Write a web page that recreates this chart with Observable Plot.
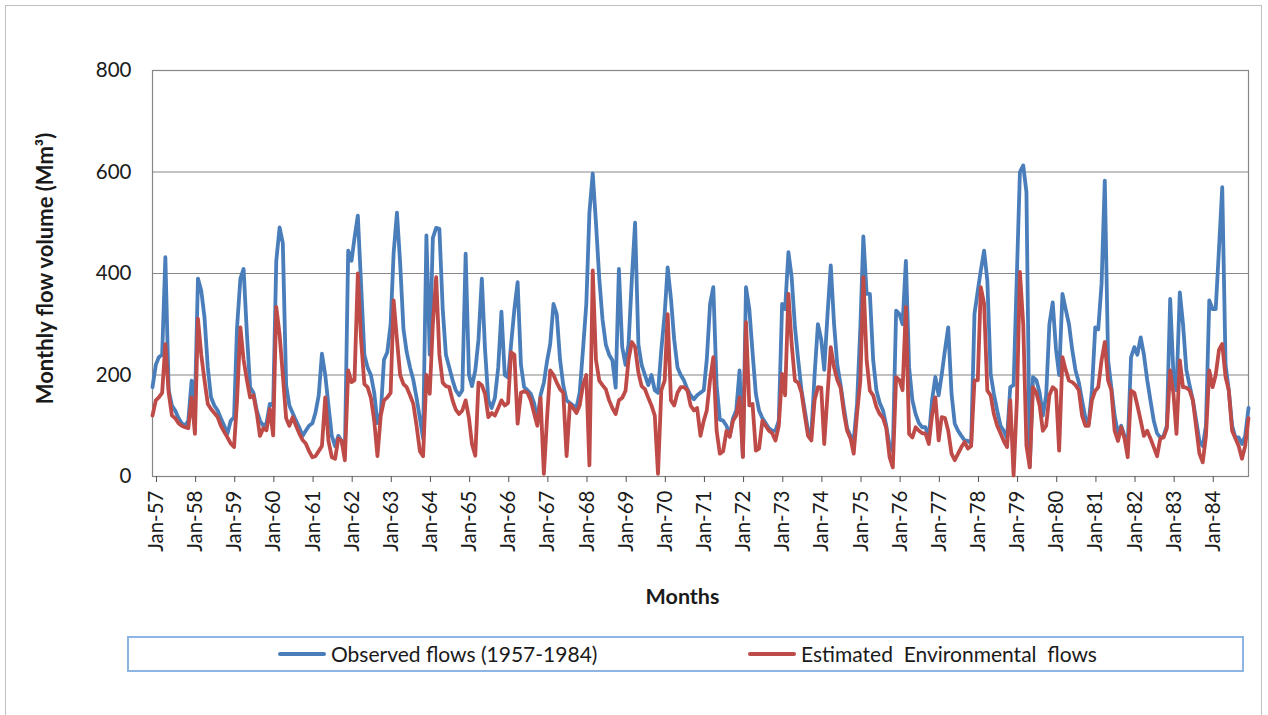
<!DOCTYPE html>
<html>
<head>
<meta charset="utf-8">
<script src="https://cdn.jsdelivr.net/npm/d3@7"></script>
<script src="https://cdn.jsdelivr.net/npm/@observablehq/plot@0.6"></script>
<style>
  html, body { margin: 0; padding: 0; background: #ffffff; }
  body { width: 1268px; height: 715px; position: relative; overflow: hidden; font-family: Lato, "Open Sans", sans-serif; }
  #frame { position: absolute; left: 5px; top: 5px; width: 1257px; height: 730px; border: 1px solid #bfbfbf; box-sizing: border-box; }
  #chart { position: absolute; left: 0; top: 0; }
  #legend { position: absolute; left: 127px; top: 636px; width: 1117px; height: 36px; border: 2px solid #8eb4e3; box-sizing: border-box; font-size: 21px; color: #1a1a1a; }
  .item { position: absolute; top: 3px; display: flex; align-items: center; white-space: pre; }
  .sw { display: inline-block; width: 48px; height: 4px; margin-right: 5px; border-radius: 2px; }
</style>
</head>
<body>
<div id="frame"></div>
<div id="chart"></div>
<div id="legend">
  <div class="item" style="left:149px"><span class="sw" style="background:#4a7ebb"></span><span>Observed flows (1957-1984)</span></div>
  <div class="item" style="left:619px"><span class="sw" style="background:#be4b48"></span><span>Estimated  Environmental  flows</span></div>
</div>
<script>
// Monthly flow volumes (Mm³), Jan-1957 onwards, one row per year
const observed = [
  176, 220, 235, 240, 432, 170, 140, 130, 115, 105, 100, 110,   // 1957
  189, 140, 390, 366, 314, 215, 156, 140, 130, 115, 100, 84,    // 1958
  110, 117, 294, 390, 409, 281, 176, 165, 130, 110, 100, 105,   // 1959
  143, 140, 425, 491, 460, 180, 140, 125, 110, 97, 80, 90,      // 1960
  100, 105, 125, 160, 242, 200, 140, 80, 60, 80, 70, 45,        // 1961
  445, 425, 470, 514, 380, 240, 215, 200, 165, 105, 125, 230,   // 1962
  245, 300, 440, 520, 420, 290, 245, 215, 190, 155, 115, 75,    // 1963
  475, 240, 470, 490, 488, 330, 240, 215, 190, 170, 160, 170,   // 1964
  439, 200, 178, 209, 270, 390, 250, 150, 135, 155, 215, 325,   // 1965
  200, 195, 260, 330, 383, 220, 176, 170, 163, 145, 110, 160,   // 1966
  185, 229, 261, 340, 320, 230, 180, 150, 145, 140, 135, 165,   // 1967
  250, 340, 520, 597, 500, 390, 310, 260, 240, 229, 175, 409,   // 1968
  255, 220, 260, 390, 500, 260, 220, 200, 180, 200, 170, 165,   // 1969
  250, 320, 412, 350, 270, 215, 200, 189, 172, 160, 152, 160,   // 1970
  165, 170, 230, 340, 373, 180, 112, 110, 100, 80, 115, 130,    // 1971
  209, 40, 373, 330, 245, 163, 130, 115, 105, 95, 90, 90,       // 1972
  110, 340, 330, 442, 393, 294, 230, 170, 130, 90, 84, 200,     // 1973
  300, 270, 210, 320, 416, 300, 220, 180, 135, 95, 80, 71,      // 1974
  143, 294, 473, 360, 360, 229, 170, 145, 130, 100, 60, 50,     // 1975
  327, 320, 300, 425, 215, 150, 123, 105, 97, 97, 75, 150,      // 1976
  196, 160, 200, 250, 294, 163, 104, 90, 80, 71, 70, 65,        // 1977
  320, 366, 406, 445, 386, 202, 163, 130, 100, 90, 75, 176,     // 1978
  180, 400, 600, 613, 560, 20, 196, 190, 165, 120, 160, 300,    // 1979
  343, 250, 200, 360, 330, 300, 250, 209, 185, 150, 115, 104,   // 1980
  170, 294, 290, 380, 583, 229, 176, 120, 84, 100, 80, 60,      // 1981
  235, 255, 240, 274, 240, 190, 150, 110, 85, 77, 80, 100,      // 1982
  350, 200, 170, 363, 300, 210, 180, 150, 110, 70, 60, 100,     // 1983
  347, 330, 330, 450, 570, 220, 170, 100, 77, 77, 64, 80,       // 1984
  135                                                           // Jan-1985
];
const environmental = [
  120, 150, 156, 165, 261, 165, 120, 115, 105, 100, 97, 95,     // 1957
  156, 84, 311, 240, 190, 143, 133, 125, 117, 100, 88, 77,      // 1958
  65, 58, 150, 294, 230, 190, 156, 160, 125, 80, 95, 91,        // 1959
  133, 81, 334, 280, 200, 115, 100, 117, 100, 85, 72, 65,       // 1960
  50, 38, 40, 50, 60, 156, 70, 38, 35, 75, 70, 32,              // 1961
  209, 186, 190, 400, 270, 182, 176, 155, 110, 40, 120, 150,    // 1962
  156, 165, 347, 270, 200, 182, 176, 160, 143, 100, 50, 40,     // 1963
  200, 163, 300, 393, 240, 185, 178, 176, 150, 132, 123, 130,   // 1964
  150, 115, 64, 41, 185, 180, 163, 117, 125, 120, 135, 150,     // 1965
  140, 145, 245, 240, 104, 165, 168, 165, 150, 125, 100, 155,   // 1966
  5, 120, 209, 200, 185, 172, 165, 40, 143, 135, 125, 140,      // 1967
  180, 200, 22, 406, 230, 189, 180, 172, 150, 135, 123, 150,    // 1968
  155, 169, 230, 265, 255, 205, 178, 172, 155, 140, 120, 5,     // 1969
  170, 189, 320, 150, 140, 165, 176, 176, 170, 140, 130, 135,   // 1970
  80, 110, 130, 190, 235, 90, 45, 50, 90, 78, 110, 120,         // 1971
  156, 38, 304, 140, 143, 51, 55, 110, 100, 90, 85, 71,         // 1972
  100, 202, 160, 360, 261, 189, 185, 165, 120, 80, 71, 150,     // 1973
  176, 175, 64, 163, 255, 215, 190, 175, 125, 90, 75, 45,       // 1974
  123, 189, 393, 229, 169, 160, 137, 123, 115, 95, 38, 18,      // 1975
  196, 190, 170, 334, 84, 77, 97, 90, 85, 85, 64, 120,          // 1976
  156, 71, 117, 115, 90, 45, 32, 45, 58, 68, 55, 60,            // 1977
  189, 190, 373, 340, 169, 160, 123, 100, 85, 70, 58, 150,      // 1978
  2, 150, 403, 300, 60, 18, 176, 165, 140, 90, 100, 160,        // 1979
  176, 170, 51, 235, 210, 189, 186, 180, 170, 120, 100, 100,    // 1980
  150, 169, 176, 229, 265, 189, 170, 90, 70, 97, 75, 38,        // 1981
  169, 165, 140, 110, 80, 90, 75, 58, 40, 75, 77, 95,           // 1982
  209, 163, 84, 229, 176, 175, 170, 150, 97, 45, 28, 80,        // 1983
  209, 176, 200, 250, 261, 196, 170, 90, 75, 60, 35, 60,        // 1984
  115                                                           // Jan-1985
];
const yTicks = [0, 200, 400, 600, 800];
const yTitle = "Monthly flow volume (Mm³)";
const xTitle = "Months";

const start = new Date(Date.UTC(1957, 0, 1));
const end = new Date(Date.UTC(1985, 0, 1));
const months = d3.utcMonth.range(start, new Date(Date.UTC(1985, 1, 1)));
const yearTicks = d3.utcYear.range(start, end);
const data = months.map((d, i) => ({date: d, obs: observed[i], env: environmental[i]}));

const chart = Plot.plot({
  width: 1268,
  height: 620,
  marginLeft: 152,
  marginRight: 20,
  marginTop: 70,
  marginBottom: 144,
  x: {type: "utc", domain: [start, end]},
  y: {domain: [0, 800]},
  style: {fontFamily: "Lato, 'Open Sans', sans-serif", fontSize: "20px", color: "#1a1a1a", background: "transparent"},
  marks: [
    Plot.gridY(yTicks.slice(1), {stroke: "#868686", strokeOpacity: 1, strokeWidth: 1}),
    Plot.frame({stroke: "#868686", strokeWidth: 1.2}),
    Plot.lineY(data, {x: "date", y: "obs", stroke: "#4a7ebb", strokeWidth: 3.8}),
    Plot.lineY(data, {x: "date", y: "env", stroke: "#be4b48", strokeWidth: 3.8}),
    Plot.axisY({ticks: yTicks, tickSize: 0, tickPadding: 21, label: null, fontSize: 20.5}),
    Plot.axisX({ticks: yearTicks, tickFormat: d3.utcFormat("%b-%y"), tickRotate: -90, tickSize: 6, tickPadding: 8, dx: 4, label: null, stroke: "#555", fontSize: 20.5}),
    Plot.text([yTitle], {frameAnchor: "left", rotate: -90, textAnchor: "middle", dx: -107, dy: -5, fontWeight: "bold", fontSize: 22}),
    Plot.text([xTitle], {frameAnchor: "bottom", textAnchor: "middle", dx: -18, dy: 127, fontWeight: "bold", fontSize: 21.5})
  ]
});
document.getElementById("chart").appendChild(chart);
</script>
</body>
</html>
